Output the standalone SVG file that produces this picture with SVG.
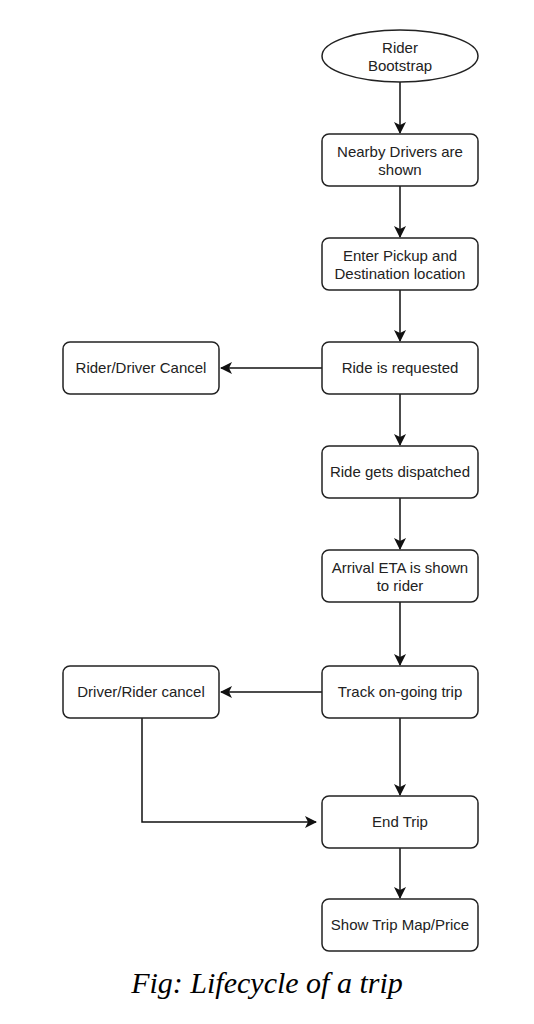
<svg xmlns="http://www.w3.org/2000/svg" width="534" height="1024" viewBox="0 0 534 1024">
<style>
.n{fill:#fff;stroke:#222;stroke-width:1.5}
.t{font-family:"Liberation Sans",Arial,sans-serif;font-size:15px;fill:#222;text-anchor:middle}
.c{fill:none;stroke:#111;stroke-width:1.5}
.cap{font-family:"Liberation Serif","Times New Roman",serif;font-style:italic;font-size:30px;fill:#000;text-anchor:middle}
</style>
<defs>
<marker id="a" viewBox="0 0 12 12" refX="11" refY="6" markerWidth="12" markerHeight="12" markerUnits="userSpaceOnUse" orient="auto">
<path d="M0,0 L12,6 L0,12 L3,6 Z" fill="#111"/>
</marker>
</defs>
<rect width="534" height="1024" fill="#fff"/>
<g id="connectors">
<path class="c" d="M400,82 V133" marker-end="url(#a)"/>
<path class="c" d="M400,186 V237" marker-end="url(#a)"/>
<path class="c" d="M400,290 V341" marker-end="url(#a)"/>
<path class="c" d="M400,393 V445" marker-end="url(#a)"/>
<path class="c" d="M400,498 V549" marker-end="url(#a)"/>
<path class="c" d="M400,602 V665" marker-end="url(#a)"/>
<path class="c" d="M400,718 V795" marker-end="url(#a)"/>
<path class="c" d="M400,848 V898" marker-end="url(#a)"/>
<path class="c" d="M322,368 H221" marker-end="url(#a)"/>
<path class="c" d="M322,692 H221" marker-end="url(#a)"/>
<path class="c" d="M142,718 V822 H316" marker-end="url(#a)"/>
</g>
<g id="n0"><ellipse class="n" cx="400" cy="56" rx="78" ry="26"/><text class="t" x="400" y="53">Rider</text><text class="t" x="400" y="71">Bootstrap</text></g>
<g id="n1"><rect class="n" x="322" y="134" width="156" height="52" rx="7"/><text class="t" x="400" y="157">Nearby Drivers are</text><text class="t" x="400" y="175">shown</text></g>
<g id="n2"><rect class="n" x="322" y="238" width="156" height="52" rx="7"/><text class="t" x="400" y="261">Enter Pickup and</text><text class="t" x="400" y="279">Destination location</text></g>
<g id="n3"><rect class="n" x="322" y="342" width="156" height="52" rx="7"/><text class="t" x="400" y="373">Ride is requested</text></g>
<g id="n4"><rect class="n" x="63" y="342" width="156" height="52" rx="7"/><text class="t" x="141" y="373">Rider/Driver Cancel</text></g>
<g id="n5"><rect class="n" x="322" y="446" width="156" height="52" rx="7"/><text class="t" x="400" y="477">Ride gets dispatched</text></g>
<g id="n6"><rect class="n" x="322" y="550" width="156" height="52" rx="7"/><text class="t" x="400" y="573">Arrival ETA is shown</text><text class="t" x="400" y="591">to rider</text></g>
<g id="n7"><rect class="n" x="322" y="666" width="156" height="52" rx="7"/><text class="t" x="400" y="697">Track on-going trip</text></g>
<g id="n8"><rect class="n" x="63" y="666" width="156" height="52" rx="7"/><text class="t" x="141" y="697">Driver/Rider cancel</text></g>
<g id="n9"><rect class="n" x="322" y="796" width="156" height="52" rx="7"/><text class="t" x="400" y="827">End Trip</text></g>
<g id="n10"><rect class="n" x="322" y="899" width="156" height="52" rx="7"/><text class="t" x="400" y="930">Show Trip Map/Price</text></g>
<text class="cap" x="267" y="993">Fig: Lifecycle of a trip</text>
</svg>
